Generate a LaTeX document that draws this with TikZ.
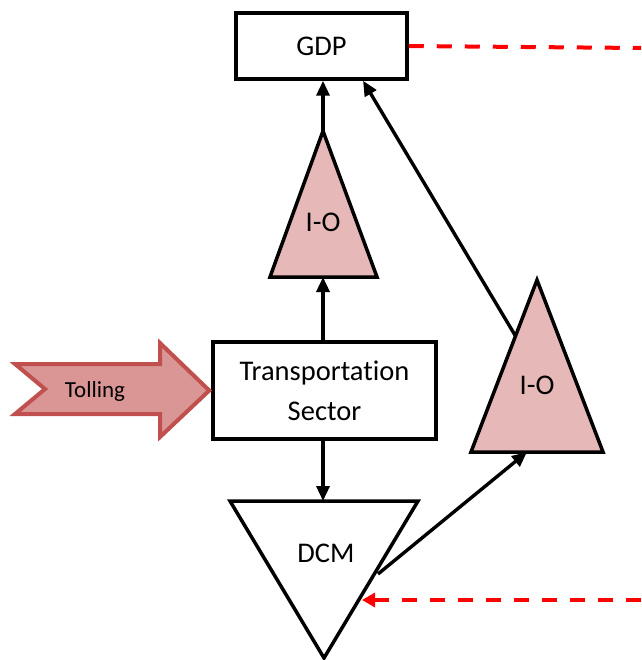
\documentclass[tikz,border=0pt]{standalone}
\usepackage{fontspec}
\setmainfont{Carlito}[Ligatures=NoCommon]
\usetikzlibrary{arrows.meta}

\definecolor{iofill}{HTML}{E6B9B8}
\definecolor{tollfill}{HTML}{D99694}
\definecolor{tolledge}{HTML}{C0504D}

\tikzset{
    flow box/.style={
      draw=black,
      line width=3.5pt,
      fill=white,
      font=\fontsize{28.5}{40}\selectfont
    },
    io tri/.style={
      draw=black,
      line width=3.5pt,
      fill=iofill
    },
    dcm tri/.style={
      draw=black,
      line width=3.5pt,
      fill=white
    },
    tri label/.style={
      font=\fontsize{28.5}{34}\selectfont
    },
    flow arrow/.style={
      line width=3.4pt,
      -{Triangle[length=15pt,width=13pt]}
    },
    feedback/.style={
      draw=red,
      line width=4pt,
      dash pattern=on 15pt off 13pt
    },
    toll arrow/.style={
      draw=tolledge,
      line width=4pt,
      fill=tollfill
    }
  }

\begin{document}
\begin{tikzpicture}[x=1pt,y=-1pt]
      \useasboundingbox (0,0) rectangle (641,660);

      % Kästen
      \node[flow box, minimum width=171pt, minimum height=66pt] (gdp) at (321.5,46) {GDP};
      \node[flow box, minimum width=223pt, minimum height=97pt, align=center] (trans) at (324.5,390.5) {Transportation\\Sector};

      % Dreiecke
      \coordinate (io1 top) at (323,131);
      \coordinate (io1 base) at (323,277);
      \draw[io tri] (io1 top) -- (377,277) -- (270,277) -- cycle;
      \node[tri label] (io1) at (323,222) {I-O};

      \coordinate (io2 top) at (537,280);
      \coordinate (io2 side) at (515.5,336);
      \coordinate (io2 base) at (527,452);
      \draw[io tri] (io2 top) -- (603,452) -- (471,452) -- cycle;
      \node[tri label] (io2) at (537,385) {I-O};

      \coordinate (dcm top) at (323,501);
      \coordinate (dcm out) at (378,574);
      \coordinate (dcm in) at (362,600);
      \draw[dcm tri] (230,501) -- (418,501) -- (324,658) -- cycle;
      \node[tri label] (dcm) at (326,553) {DCM};

      % Tolling
      \draw[toll arrow] (15,364) -- (160,364) -- (160,343) -- ([xshift=-2pt]trans.west)
        -- (160,437) -- (160,414) -- (15,414) -- (45,389) -- cycle;
      \node[font=\fontsize{23}{28}\selectfont] (toll) at (95,391) {Tolling};

      % Pfeile
      \draw[flow arrow] (io1 top) -- (io1 top |- gdp.south);
      \draw[flow arrow] (trans.north -| io1 base) -- (io1 base);
      \draw[flow arrow] (trans.south -| dcm top) -- (dcm top);
      \draw[flow arrow] (io2 side) -- ([xshift=41.5pt]gdp.south);
      \draw[flow arrow] (dcm out) -- (io2 base);

      % Rückkopplung
      \coordinate (fb top) at (641,48);
      \coordinate (fb bottom) at (641,600);
      \draw[feedback] (gdp.east) -- (fb top);
      \draw[feedback, -{Triangle[length=13pt,width=14pt]}] (fb bottom) -- (dcm in);
\end{tikzpicture}
\end{document}
